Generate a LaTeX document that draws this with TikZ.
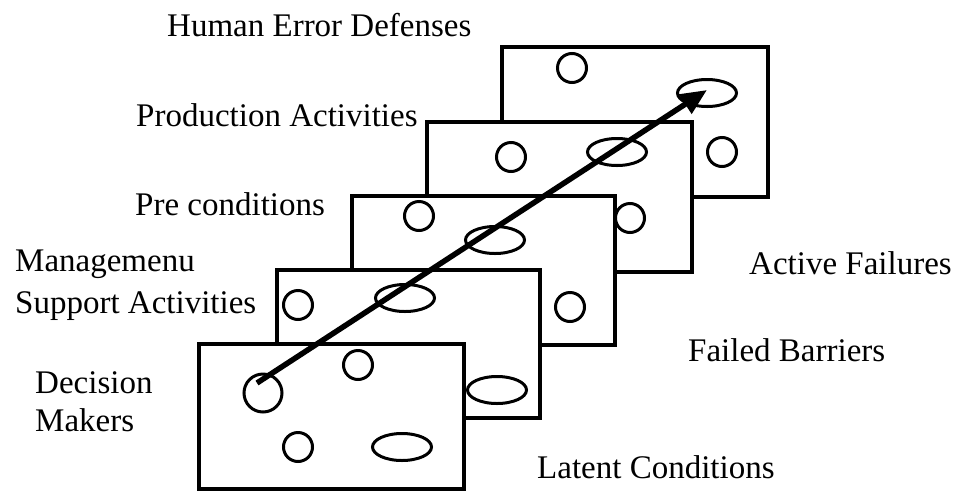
\documentclass[tikz,border=0pt]{standalone}
\usepackage{fontspec}
\setmainfont{Liberation Serif}
\usetikzlibrary{arrows.meta,shapes.geometric}
\begin{document}
\begin{tikzpicture}[x=1pt,y=-1pt,
  layer/.style={draw=black,fill=white,line width=3.3pt},
  hole/.style={draw=black,line width=3pt,circle,minimum size=29pt,inner sep=0pt},
  bighole/.style={hole,minimum size=38pt},
  gap/.style={draw=black,line width=3pt,ellipse,minimum width=59pt,minimum height=27pt,inner sep=0pt},
  lbl/.style={font=\fontsize{33}{38}\selectfont,anchor=base west,inner sep=0pt},
  path/.style={line width=5.5pt,-{Triangle[length=26pt,width=22pt]}}]
\useasboundingbox (0,0) rectangle (956,491);
% layer 1 (back)
\draw[layer] (502,47) rectangle (768,197);
\node[hole] (h1a) at (572,68) {};
\node[gap]  (e1)  at (707,93) {};
\node[hole] (h1b) at (722,152) {};
% layer 2
\draw[layer] (427,122) rectangle (692,272);
\node[hole] (h2a) at (511,157) {};
\node[gap]  (e2)  at (617,152) {};
\node[hole] (h2b) at (630,218) {};
% layer 3
\draw[layer] (352,196) rectangle (615,345);
\node[hole] (h3a) at (419,216) {};
\node[gap]  (e3)  at (495,240) {};
\node[hole] (h3b) at (570,307) {};
% layer 4
\draw[layer] (277,270) rectangle (540,418);
\node[hole] (h4a) at (298,305) {};
\node[gap]  (e4)  at (405,298) {};
\node[gap]  (e4b) at (497,390) {};
% layer 5 (front)
\draw[layer] (199,344) rectangle (464,489);
\node[bighole] (h5a) at (263,393) {};
\node[hole] (h5b) at (358,365) {};
\node[hole] (h5c) at (298,447) {};
\node[gap]  (e5)  at (402,447) {};
% trajectory
\coordinate (start) at (257,383);
\coordinate (tip) at (707,90);
\draw[path] (start) -- (tip);
% labels
\node[lbl] (t1) at (167,36.7) {Human Error Defenses};
\node[lbl] (t2) at (136,126.7) {Production Activities};
\node[lbl] (t3) at (135,215) {Pre conditions};
\node[lbl] (t4) at (15,271.7) {Managemenu};
\node[lbl] (t5) at (15,313.3) {Support Activities};
\node[lbl] (t6) at (35,393) {Decision};
\node[lbl] (t7) at (35,431.7) {Makers};
\node[lbl] (t8) at (749,274.3) {Active Failures};
\node[lbl] (t9) at (688,361.7) {Failed Barriers};
\node[lbl] (t10) at (537,478) {Latent Conditions};
\end{tikzpicture}
\end{document}
